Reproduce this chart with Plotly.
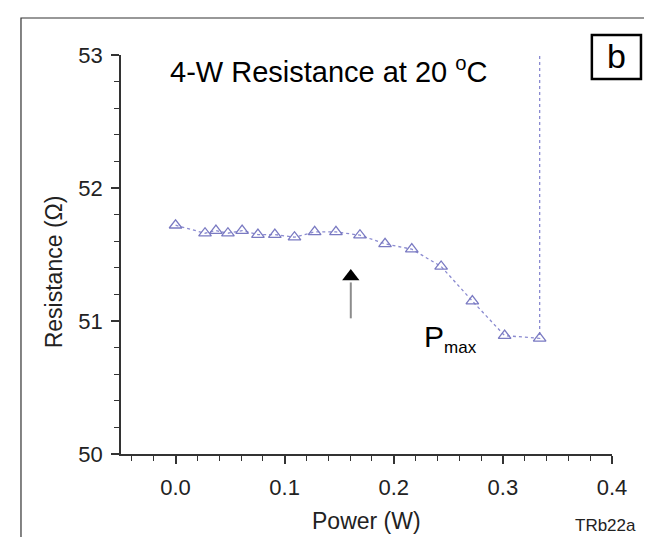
import plotly.graph_objects as go

# Données
puissance = [0.0, 0.027, 0.037, 0.048, 0.061, 0.0755, 0.091, 0.109, 0.1275,
             0.147, 0.169, 0.192, 0.2165, 0.2434, 0.272, 0.3016, 0.3337]
resistance = [51.72, 51.66, 51.68, 51.66, 51.68, 51.65, 51.65, 51.63, 51.67,
              51.67, 51.645, 51.58, 51.54, 51.41, 51.15, 50.89, 50.87]
# point de rupture (résistance hors échelle)
rupture_x = 0.3337
rupture_y = 53.0

# Flèche (tige grise + tête noire)
fleche_x = 0.1606
fleche_tete = 51.335
fleche_tige = [51.02, 51.29]

x_ticks = [0.0, 0.1, 0.2, 0.3, 0.4]
x_labels = ["0.0", "0.1", "0.2", "0.3", "0.4"]
y_ticks = [50, 51, 52, 53]

couleur = "#7a7ac2"
police = "Liberation Sans, Arial, sans-serif"

fig = go.Figure()

# ligne pointillée (avec la montée verticale finale)
fig.add_trace(go.Scatter(
    x=puissance + [rupture_x],
    y=resistance + [rupture_y],
    mode="lines",
    line=dict(color="#8a8ad0", width=1.3, dash="dot"),
    hoverinfo="skip",
))

# marqueurs triangles
fig.add_trace(go.Scatter(
    x=puissance,
    y=resistance,
    mode="markers",
    marker=dict(symbol="triangle-up-open", size=11, color=couleur,
                line=dict(width=1.3, color=couleur)),
))

# flèche
fig.add_trace(go.Scatter(
    x=[fleche_x, fleche_x], y=fleche_tige, mode="lines",
    line=dict(color="#8c8c8c", width=2), hoverinfo="skip",
))
fig.add_trace(go.Scatter(
    x=[fleche_x], y=[fleche_tete], mode="markers",
    marker=dict(symbol="triangle-up", size=15, color="black"),
    hoverinfo="skip",
))

# P max
fig.add_annotation(
    x=0.2255, y=50.87, xref="x", yref="y", xanchor="left", yanchor="middle",
    text="P<sub><span style='font-size:17px'>max</span></sub>", showarrow=False,
    font=dict(family=police, size=30, color="black"),
)

# titre intérieur
fig.add_annotation(
    x=0.0957, y=0.962, xref="paper", yref="paper", xanchor="left", yanchor="middle",
    text="4-W Resistance at 20 <sup>o</sup>C", showarrow=False,
    font=dict(family=police, size=29, color="black"),
)

# étiquette b encadrée
fig.add_shape(type="rect", xref="paper", yref="paper",
              x0=0.959, x1=1.059, y0=0.940, y1=1.050,
              line=dict(color="black", width=2.5))
fig.add_annotation(
    x=1.009, y=0.997, xref="paper", yref="paper", xanchor="center", yanchor="middle",
    text="b", showarrow=False, font=dict(family=police, size=34, color="black"),
)

# cadre extérieur
fig.add_shape(type="rect", xref="paper", yref="paper",
              x0=-0.2037, x1=1.0937, y0=-0.4, y1=1.0927,
              line=dict(color="#333333", width=1.2))

# titres des axes
fig.add_annotation(
    x=0.5, y=-0.168, xref="paper", yref="paper", xanchor="center", yanchor="middle",
    text="Power (W)", showarrow=False, font=dict(family=police, size=23, color="#222222"),
)
fig.add_annotation(
    x=-0.136, y=0.456, xref="paper", yref="paper", xanchor="center", yanchor="middle",
    text="Resistance (Ω)", textangle=-90, showarrow=False,
    font=dict(family=police, size=23, color="#222222"),
)

# TRb22a
fig.add_annotation(
    x=1.053, y=-0.18, xref="paper", yref="paper", xanchor="right", yanchor="middle",
    text="TRb22a", showarrow=False, font=dict(family=police, size=17, color="#222222"),
)

fig.update_layout(
    width=652, height=537,
    margin=dict(l=113, r=48, t=47, b=91),
    paper_bgcolor="white", plot_bgcolor="white",
    font=dict(family=police, size=22, color="#222222"),
    showlegend=False,
)

fig.update_xaxes(
    range=[-0.05, 0.4], tickvals=x_ticks, ticktext=x_labels,
    showgrid=False, zeroline=False,
    showline=True, linecolor="#333333", linewidth=1.5,
    ticks="outside", ticklen=8, tickwidth=1.5, tickcolor="#333333",
    minor=dict(dtick=0.02, tick0=0, ticks="outside", ticklen=5,
               tickwidth=1.2, tickcolor="#333333", showgrid=False),
    ticklabelstandoff=5,
    tickfont=dict(size=22),
)
fig.update_yaxes(
    range=[50, 53], tickvals=y_ticks,
    showgrid=False, zeroline=False,
    showline=True, linecolor="#333333", linewidth=1.5,
    ticks="outside", ticklen=8, tickwidth=1.5, tickcolor="#333333",
    minor=dict(dtick=0.2, tick0=50, ticks="outside", ticklen=5,
               tickwidth=1.2, tickcolor="#333333", showgrid=False),
    ticklabelstandoff=4,
    tickfont=dict(size=22),
)

fig.write_html("out.html")
